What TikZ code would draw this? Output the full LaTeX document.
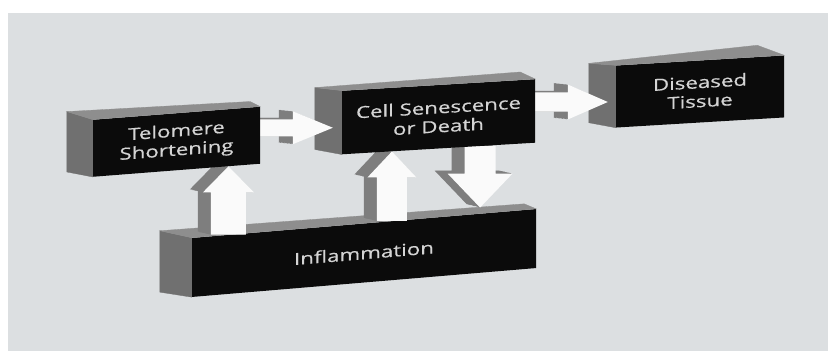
\documentclass[tikz,border=0pt]{standalone}
\usepackage{fontspec}
\usetikzlibrary{calc}
\newfontfamily\boxfont[FakeStretch=1.35,FakeBold=0.5]{Open Sans}
\definecolor{backdrop}{HTML}{DCDFE1}
\definecolor{slabfront}{HTML}{0B0B0B}
\definecolor{slabgrey}{HTML}{707070}
\definecolor{slablid}{HTML}{8E8E8E}
\definecolor{label}{HTML}{D4D4D4}
\definecolor{arrowwhite}{HTML}{FAFAFA}
\definecolor{arrowgrey}{HTML}{7E7E7E}
\pgfdeclarelayer{bottom}
\pgfdeclarelayer{risers}
\pgfdeclarelayer{upper}
\pgfdeclarelayer{link}
\pgfsetlayers{bottom,risers,upper,link,main}
\newcommand{\slabfaces}[4]{%
  \fill[slabside] (#1.north west) -- ++#2 -- ($(#1.south west)+#3$) -- (#1.south west) -- cycle;
  \fill[slabtop] (#1.north west) -- (#1.north east) -- ++#4 -- ($(#1.north west)+#2$) -- cycle;}
\newcommand{\riserpath}[6]{\fill[#1] let \p1=(#2), \p2=(#3),
    \n1={\y2-(#6)+\oy}, \n2={\x2+\ox}, \n3={\y1+\oy}, \n4={\y2+\oy} in
  (\n2-#4,\n3) -- (\n2-#4,\n1) -- (\n2-#5,\n1) -- (\n2,\n4)
  -- (\n2+#5,\n1) -- (\n2+#4,\n1) -- (\n2+#4,\n3) -- cycle;}
\newcommand{\linkpath}[6]{\fill[#1] let \p1=(#2), \p2=(#3),
    \n1={\x2-(#6)+\ox}, \n2={\y2+\oy}, \n3={\x1+\ox}, \n4={\x2+\ox} in
  (\n3,\n2-#4) -- (\n1,\n2-#4) -- (\n1,\n2-#5) -- (\n4,\n2)
  -- (\n1,\n2+#5) -- (\n1,\n2+#4) -- (\n3,\n2+#4) -- cycle;}
\newcommand{\riser}[5]{%
  \foreach \t in {1,0.9,...,0.05} {\pgfmathsetmacro\ox{-13*\t}\pgfmathsetmacro\oy{3*\t}%
    \riserpath{arrowside}{#1}{#2}{#3}{#4}{#5}}
  \def\ox{0}\def\oy{0}\riserpath{arrowface}{#1}{#2}{#3}{#4}{#5}}
\newcommand{\link}[5]{%
  \foreach \t in {1,0.9,...,0.05} {\pgfmathsetmacro\ox{-14*\t}\pgfmathsetmacro\oy{1.5*\t}%
    \linkpath{arrowside}{#1}{#2}{#3}{#4}{#5}}
  \def\ox{0}\def\oy{0}\linkpath{arrowface}{#1}{#2}{#3}{#4}{#5}}

\begin{document}
\begin{tikzpicture}[x=1pt,y=1pt,
  slab/.style={fill=slabfront,text=label,font=\boxfont\fontsize{16.5}{19}\selectfont,
    align=center,inner sep=0pt},
  slabside/.style={fill=slabgrey,draw=slabgrey,line width=0.3pt},
  slabtop/.style={fill=slablid,draw=slablid,line width=0.3pt},
  arrowside/.style={fill=arrowgrey},
  arrowface/.style={fill=arrowwhite}]
  \useasboundingbox (0,0) rectangle (828,351);
  \begin{pgfonlayer}{bottom}
    \fill[white] (0,0) rectangle (828,351);
    \fill[backdrop] (8,0) rectangle (828,338);
    \node[slab,yslant=0.084,minimum width=344pt,minimum height=59pt] (infl) at (364,98) {\raisebox{-6pt}{Inflammation}};
    \slabfaces{infl}{(-32,7)}{(-32,5)}{(-12,5)}
    \node[slab,yslant=0.06,minimum width=168pt,minimum height=62pt] (dis) at (700,259.5) {Diseased\\Tissue};
    \slabfaces{dis}{(-27,2)}{(-27,5)}{(-27,10)}
  \end{pgfonlayer}
  \begin{pgfonlayer}{upper}
    \node[slab,yslant=0.06,minimum width=193pt,minimum height=63.5pt] (cell) at (438.5,234.25) {Cell Senescence\\or Death};
    \slabfaces{cell}{(-27,3)}{(-27,5)}{(-15,7)}
  \end{pgfonlayer}
  \node[slab,yslant=0.078,minimum width=167pt,minimum height=57pt] (tel) at (176.5,209.25) {Telomere\\Shortening};
  \slabfaces{tel}{(-26,8)}{(-26,5)}{(-10,5)}

  \coordinate (u1s) at ($(infl.north west)!0.105!(infl.north east)$);
  \coordinate (u1e) at ($(tel.south west)!0.81!(tel.south east)$);
  \coordinate (u2s) at ($(infl.north west)!0.581!(infl.north east)$);
  \coordinate (u2e) at ($(cell.south west)!0.259!(cell.south east)$);
  \coordinate (ds) at ($(cell.south west)!0.715!(cell.south east)$);
  \coordinate (de) at ($(infl.north west)!0.837!(infl.north east)+(0,6)$);
  \coordinate (h1s) at ($(tel.north east)!0.37!(tel.south east)+(-4,0)$);
  \coordinate (h1e) at ($(cell.west |- h1s)+(-9,0)$);
  \coordinate (h2s) at ($(cell.north east)!0.36!(cell.south east)+(-4,0)$);
  \coordinate (h2e) at ($(dis.west |- h2s)+(-8,0)$);

  \begin{pgfonlayer}{risers}
    \riser{u1s}{u1e}{17.5}{25.5}{26}
    \riser{u2s}{u2e}{15}{24.5}{26}
    \riser{ds}{de}{15.5}{32.5}{-34}
    \link{h2s}{h2e}{9.5}{17.5}{40}
  \end{pgfonlayer}
  \begin{pgfonlayer}{link}
    \link{h1s}{h1e}{8.5}{16.5}{40}
  \end{pgfonlayer}
\end{tikzpicture}
\end{document}
